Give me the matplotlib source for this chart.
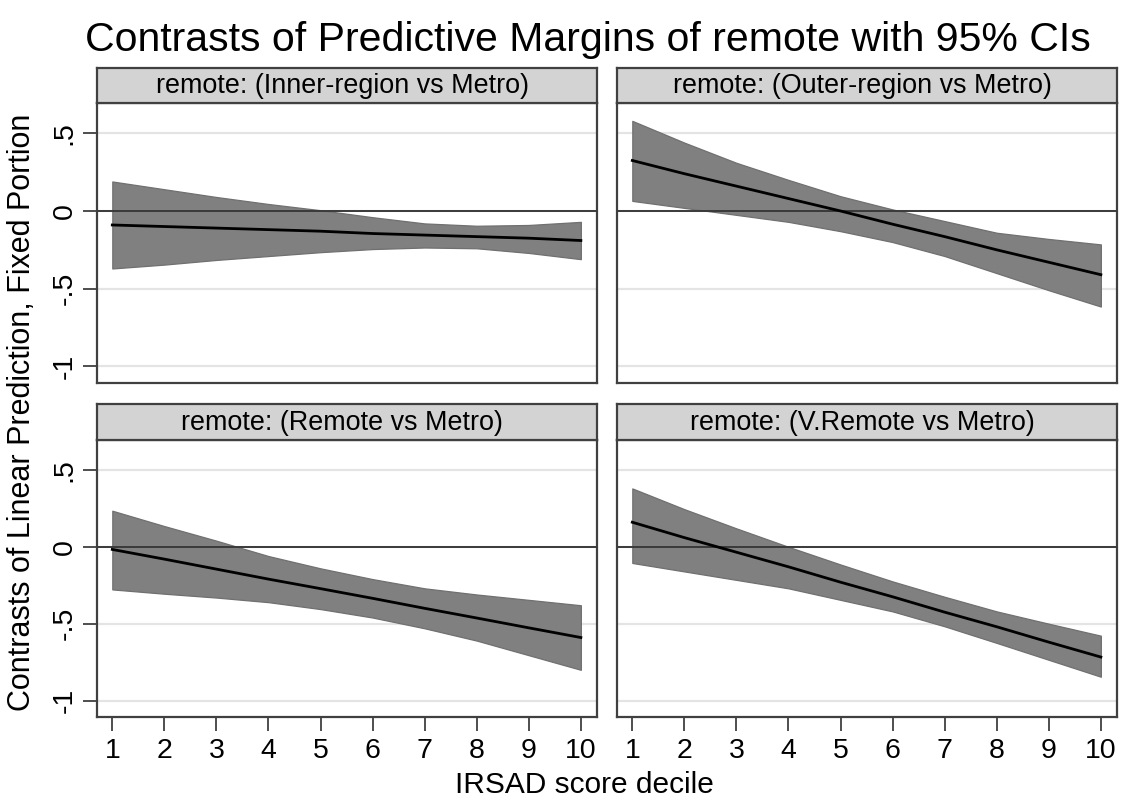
import matplotlib
matplotlib.use("Agg")
import matplotlib.pyplot as plt

plt.rcParams['font.family'] = ['Liberation Sans', 'DejaVu Sans']

deciles = [1, 2, 3, 4, 5, 6, 7, 8, 9, 10]
panel_titles = ["remote: (Inner-region vs Metro)", "remote: (Outer-region vs Metro)",
                "remote: (Remote vs Metro)", "remote: (V.Remote vs Metro)"]

inner_est = [-0.09, -0.10, -0.11, -0.12, -0.13, -0.145, -0.155, -0.165, -0.175, -0.19]
inner_hi = [0.19, 0.14, 0.09, 0.045, 0.005, -0.04, -0.08, -0.095, -0.09, -0.07]
inner_lo = [-0.37, -0.345, -0.315, -0.29, -0.265, -0.245, -0.235, -0.24, -0.27, -0.31]

outer_est = [0.325, 0.24, 0.16, 0.08, 0.0, -0.085, -0.165, -0.25, -0.33, -0.41]
outer_hi = [0.58, 0.44, 0.31, 0.2, 0.095, 0.01, -0.065, -0.14, -0.18, -0.215]
outer_lo = [0.065, 0.02, -0.025, -0.07, -0.13, -0.2, -0.29, -0.4, -0.51, -0.615]

remote_est = [-0.017, -0.08, -0.145, -0.21, -0.272, -0.335, -0.4, -0.463, -0.527, -0.59]
remote_hi = [0.235, 0.135, 0.04, -0.06, -0.14, -0.21, -0.27, -0.31, -0.345, -0.38]
remote_lo = [-0.277, -0.305, -0.33, -0.36, -0.405, -0.46, -0.53, -0.61, -0.705, -0.80]

vremote_est = [0.16, 0.06, -0.035, -0.13, -0.23, -0.325, -0.425, -0.52, -0.62, -0.717]
vremote_hi = [0.38, 0.245, 0.12, 0.0, -0.115, -0.225, -0.325, -0.42, -0.5, -0.578]
vremote_lo = [-0.105, -0.16, -0.215, -0.27, -0.345, -0.42, -0.517, -0.625, -0.735, -0.845]

yticks = [-1, -0.5, 0, 0.5]
ytick_labels = ["-1", "-.5", "0", ".5"]

series = [(inner_est, inner_lo, inner_hi), (outer_est, outer_lo, outer_hi),
          (remote_est, remote_lo, remote_hi), (vremote_est, vremote_lo, vremote_hi)]

W, H = 1122, 800
fig = plt.figure(figsize=(W / 100, H / 100), dpi=100)
fig.patch.set_facecolor('white')


def frac(x0, y0, x1, y1):
    return [x0 / W, 1 - y1 / H, (x1 - x0) / W, (y1 - y0) / H]


panels = [
    ((97, 103, 597, 383), (97, 68, 597, 103)),
    ((617, 103, 1117, 383), (617, 68, 1117, 103)),
    ((97, 440, 597, 717), (97, 404, 597, 440)),
    ((617, 440, 1117, 717), (617, 404, 1117, 440)),
]

frame_col = '#404040'
for i, ((ax_rect, st_rect), (est, lo, hi), title) in enumerate(zip(panels, series, panel_titles)):
    ax = fig.add_axes(frac(*ax_rect))
    ax.set_xlim(0.706, 10.31)
    ax.set_ylim(-1.107, 0.695)
    for g in yticks:
        ax.axhline(g, color='#e4e4e4', lw=1.6, zorder=0)
    ax.fill_between(deciles, lo, hi, facecolor='#808080', edgecolor='#707070', lw=0.9, zorder=2)
    ax.axhline(0, color='#3a3a3a', lw=1.4, zorder=3)
    ax.plot(deciles, est, color='black', lw=2.0, zorder=4)
    for s in ax.spines.values():
        s.set_color(frame_col)
        s.set_linewidth(1.6)
    ax.set_yticks(yticks)
    if i % 2 == 0:
        ax.set_yticklabels(ytick_labels, rotation=90, va='center', fontsize=20.5)
        ax.tick_params(axis='y', length=10, width=1.3, color=frame_col, pad=4)
    else:
        ax.tick_params(axis='y', length=0, labelleft=False)
    ax.set_xticks(deciles)
    if i >= 2:
        ax.set_xticklabels([str(d) for d in deciles], fontsize=20.5)
        ax.tick_params(axis='x', length=10, width=1.3, color=frame_col, pad=5)
    else:
        ax.tick_params(axis='x', length=0, labelbottom=False)

    sax = fig.add_axes(frac(*st_rect))
    sax.set_xticks([])
    sax.set_yticks([])
    sax.set_facecolor('#d3d3d3')
    for s in sax.spines.values():
        s.set_color(frame_col)
        s.set_linewidth(1.6)
    sax.text(0.49, 0.48, title, ha='center', va='center', fontsize=19.4, transform=sax.transAxes)

fig.text(588 / W, 1 - 40 / H, "Contrasts of Predictive Margins of remote with 95% CIs",
         ha='center', va='center', fontsize=29.5)
fig.text(22 / W, 1 - 412 / H, "Contrasts of Linear Prediction, Fixed Portion",
         ha='center', va='center', rotation=90, fontsize=22)
fig.text(584 / W, 1 - 785 / H, "IRSAD score decile", ha='center', va='center', fontsize=21.5)

fig.savefig('out.png', dpi=100, facecolor='white')
